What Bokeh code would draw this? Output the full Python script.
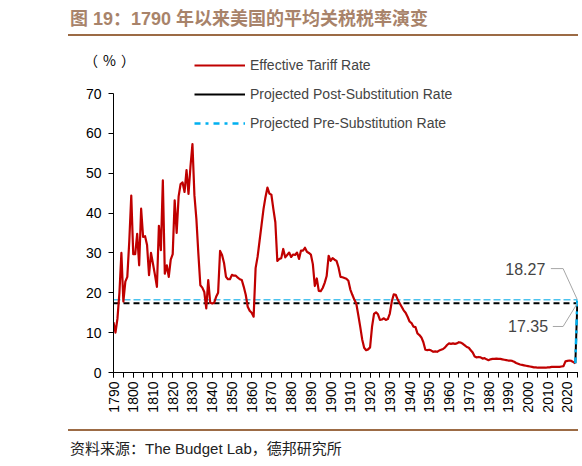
from bokeh.plotting import figure
from bokeh.models import (Div, Legend, LegendItem, Label, Range1d,
                          SingleIntervalTicker, ColumnDataSource)
from bokeh.layouts import column
from bokeh.embed import file_html
from bokeh.resources import INLINE
import math

# effective tariff rate (%), one value per year 1790-2024
years = list(range(1790, 2025))
rates = [
    12.6, 10.0, 13.5, 20.0, 30.0, 17.8, 22.8, 24.0, 33.0, 44.4,   # 1790s
    29.7, 29.7, 34.8, 26.9, 41.1, 34.0, 34.2, 32.0, 24.4, 30.0,   # 1800s
    27.3, 24.5, 21.5, 36.8, 30.7, 48.2, 24.8, 26.9, 24.0, 28.3,   # 1810s
    29.7, 43.2, 35.0, 44.2, 47.3, 47.7, 45.3, 50.8, 44.8, 51.7,   # 1820s
    57.3, 44.5, 38.5, 29.8, 21.9, 21.3, 20.2, 16.1, 23.2, 17.5,   # 1830s
    17.3, 17.5, 19.0, 20.0, 30.5, 29.5, 27.5, 24.0, 23.4, 23.4,   # 1840s
    24.5, 24.3, 24.3, 23.8, 23.4, 23.2, 21.5, 19.5, 16.5, 15.5,   # 1850s
    15.0, 14.0, 26.2, 29.0, 33.0, 37.0, 41.0, 44.0, 46.4, 44.9,   # 1860s
    44.6, 41.0, 37.7, 28.0, 28.5, 28.7, 31.0, 28.9, 29.5, 30.1,   # 1870s
    29.0, 29.6, 29.5, 30.1, 28.5, 30.6, 30.6, 31.3, 30.3, 30.0,   # 1880s
    29.6, 27.2, 21.7, 23.6, 20.5, 20.4, 21.2, 22.5, 24.2, 29.3,   # 1890s
    28.0, 28.7, 28.3, 28.0, 26.4, 24.0, 23.9, 23.7, 23.5, 23.0,   # 1900s
    20.8, 19.5, 18.3, 17.3, 14.5, 11.5, 8.3, 6.2, 5.6, 5.8,       # 1910s
    6.3, 11.5, 14.7, 15.1, 14.6, 13.2, 13.3, 13.6, 13.2, 13.4,    # 1920s
    14.8, 17.8, 19.6, 19.5, 18.3, 17.4, 16.5, 15.6, 15.0, 14.0,   # 1930s
    12.8, 12.4, 11.5, 11.4, 9.8, 9.4, 8.8, 7.6, 5.7, 5.6,         # 1940s
    5.7, 5.5, 5.2, 5.3, 5.2, 5.5, 5.7, 5.9, 6.3, 6.9,             # 1950s
    7.3, 7.2, 7.3, 7.2, 7.3, 7.6, 7.5, 7.2, 6.8, 6.4,             # 1960s
    6.2, 5.6, 5.0, 4.0, 3.8, 3.9, 3.8, 3.5, 3.6, 3.3,             # 1970s
    3.1, 3.3, 3.4, 3.4, 3.5, 3.4, 3.4, 3.3, 3.2, 3.1,             # 1980s
    3.0, 3.0, 2.9, 2.7, 2.4, 2.2, 2.0, 1.9, 1.8, 1.7,             # 1990s
    1.6, 1.5, 1.4, 1.3, 1.3, 1.2, 1.2, 1.2, 1.2, 1.2,             # 2000s
    1.3, 1.3, 1.4, 1.4, 1.4, 1.4, 1.4, 1.5, 1.6, 2.8,             # 2010s
    2.9, 3.0, 2.9, 2.6, 2.3,                                      # 2020s
]

proj_year = 2025
post_rate = 17.35
pre_rate = 18.27

FONT = "Liberation Sans"
CJK = "Noto Sans CJK SC"
RED = "#c00000"
BLUE = "#00b0f0"
BROWN = "#9c6b45"

# frame runs from 0 up to ~80.8 so the legend sits inside it; the axis stops at 70
p = figure(width=578, height=385, output_backend="svg", toolbar_location=None,
           tools="", x_range=Range1d(1790, 2025.6), y_range=Range1d(0, 80.8),
           min_border_left=113, min_border_right=0, min_border_top=12,
           min_border_bottom=51, outline_line_color=None,
           margin=(-34, 0, 0, 0))
p.border_fill_color = None
p.background_fill_color = None
p.xgrid.grid_line_color = None
p.ygrid.grid_line_color = None

# reference lines across the whole chart
p.line([years[0], proj_year], [pre_rate, pre_rate], line_color="#4cc3ee",
       line_width=1.6, line_dash="7 3")
p.line([years[0], proj_year], [post_rate, post_rate], line_color="black",
       line_width=2, line_dash="6 4")

r_eff = p.line(years, rates, line_color=RED, line_width=2.2, line_join="round")
r_post = p.line([years[-1], proj_year], [rates[-1], post_rate],
                line_color="black", line_width=2)
r_pre = p.line([years[-1], proj_year], [rates[-1], pre_rate],
               line_color=BLUE, line_width=2.5, line_dash="6 5 3 5")

# axes
p.xaxis.ticker = SingleIntervalTicker(interval=10, num_minor_ticks=2)
p.yaxis.ticker = SingleIntervalTicker(interval=10, num_minor_ticks=0)
p.yaxis.bounds = (0, 70)
for ax in (p.xaxis[0], p.yaxis[0]):
    ax.axis_line_color = "black"
    ax.major_tick_line_color = "black"
    ax.minor_tick_line_color = "black"
    ax.major_tick_in = 0
    ax.major_tick_out = 5
    ax.minor_tick_in = 0
    ax.minor_tick_out = 5
    ax.major_label_text_font = FONT
    ax.major_label_text_font_size = "14px"
    ax.major_label_text_color = "black"
p.xaxis.major_label_orientation = math.pi / 2
p.xaxis.major_label_standoff = 4
p.yaxis.major_label_standoff = 7

# value call-outs at the end of the projection
lead = ColumnDataSource(dict(
    xs=[[proj_year, proj_year - 7.2, proj_year - 13.4],
        [proj_year, proj_year - 7.2, proj_year - 12.4]],
    ys=[[pre_rate, pre_rate + 7.8, pre_rate + 7.8],
        [post_rate, post_rate - 5.8, post_rate - 5.8]]))
p.multi_line("xs", "ys", source=lead, line_color="#a6a6a6", line_width=1)
p.add_layout(Label(x=proj_year - 16.2, y=pre_rate + 7.8, text=f"{pre_rate:.2f}",
                   text_font=FONT, text_font_size="16px", text_align="right",
                   text_baseline="middle"))
p.add_layout(Label(x=proj_year - 14.8, y=post_rate - 5.8, text=f"{post_rate:.2f}",
                   text_font=FONT, text_font_size="16px", text_align="right",
                   text_baseline="middle"))

legend = Legend(items=[
    LegendItem(label="Effective Tariff Rate", renderers=[r_eff]),
    LegendItem(label="Projected Post-Substitution Rate", renderers=[r_post]),
    LegendItem(label="Projected Pre-Substitution Rate", renderers=[r_pre]),
], location=(81, 239), label_text_font=FONT, label_text_font_size="14px",
    glyph_width=51, glyph_height=20, label_height=20, label_standoff=5,
    spacing=9, padding=0, margin=0, border_line_color=None,
    background_fill_alpha=0)
p.add_layout(legend)

# header: title, rule, and the unit note that sits just above the y axis
header = Div(width=578, height=72, margin=0, text=(
    f'<div style="margin-left:68px;width:510px;height:36px;'
    f'border-bottom:2px solid {BROWN};">'
    f'<div style="padding-top:8px;padding-left:2px;font-family:\'{FONT}\',\'{CJK}\';'
    f'font-weight:bold;font-size:18px;line-height:22px;color:#a8836a;'
    f'white-space:nowrap;">图 19：1790 年以来美国的平均关税税率演变</div></div>'
    f'<div style="margin-top:14px;margin-left:84px;font-family:\'{CJK}\';'
    f'font-size:14px;line-height:20px;letter-spacing:5px;color:black;'
    f'white-space:nowrap;">（%）</div>'))

footer = Div(width=578, height=35, margin=0, text=(
    f'<div style="margin-left:68px;width:510px;margin-top:6px;'
    f'border-top:2px solid {BROWN};padding-top:8px;padding-left:2px;'
    f'font-family:\'{FONT}\',\'{CJK}\';font-size:15px;'
    f'line-height:20px;color:#222;white-space:nowrap;">'
    f'资料来源：The Budget Lab，德邦研究所</div>'))

layout = column(header, p, footer, spacing=0, margin=0)
open("out.html", "w").write(file_html(layout, INLINE))
